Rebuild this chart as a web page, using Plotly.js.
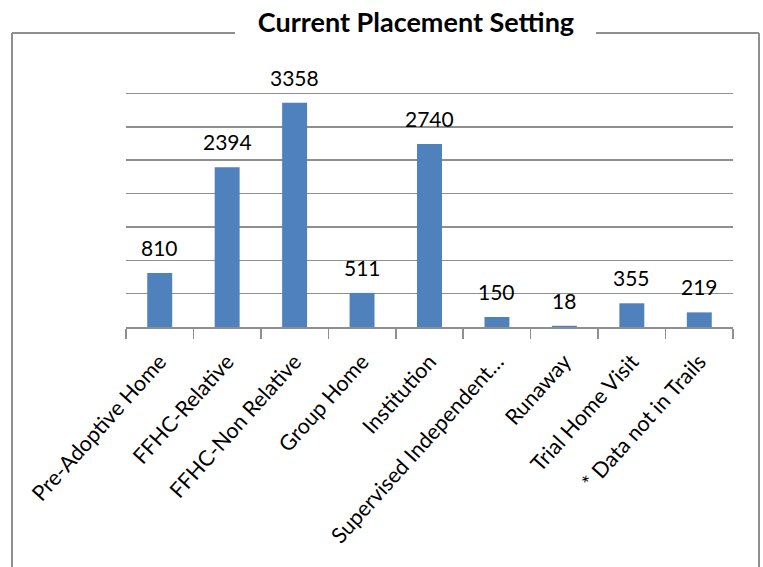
<!DOCTYPE html>
<html>
<head>
<meta charset="utf-8">
<script src="https://cdn.plot.ly/plotly-3.0.1.min.js"></script>
<style>html,body{margin:0;padding:0;background:#fff;}#chart{width:763px;height:567px;}</style>
</head>
<body>
<div id="chart"></div>
<script>
const categories = ["Pre-Adoptive Home", "FFHC-Relative", "FFHC-Non Relative", "Group Home", "Institution", "Supervised Independent…", "Runaway", "Trial Home Visit", "* Data not in Trails"];
const values = [810, 2394, 3358, 511, 2740, 150, 18, 355, 219];
const chartTitle = "Current Placement Setting";

const L = 126, R = 733, T = 60, B = 327;
const W = 763, H = 567;
const px = x => (x - L) / (R - L);
const py = y => (B - y) / (B - T);
const borderColor = "#8f8f8f";
const fontFam = "Lato, 'Open Sans', 'Noto Sans', sans-serif";

const trace = {
  type: "bar",
  x: categories,
  y: values,
  marker: {color: "#4f81bd"},
  hoverinfo: "x+y"
};

const valueLabels = categories.map((c, i) => ({
  x: c, y: values[i], xref: "x", yref: "y",
  text: String(values[i]),
  showarrow: false,
  yanchor: "bottom",
  yshift: 11,
  font: {family: fontFam, size: 21, color: "#000"}
}));

const layout = {
  width: W, height: H,
  margin: {l: L, r: W - R, t: T, b: H - B, pad: 0},
  paper_bgcolor: "#fff",
  plot_bgcolor: "#fff",
  showlegend: false,
  bargap: 0.63,
  title: {
    text: "<b>" + chartTitle + "</b>",
    font: {family: fontFam, size: 27, color: "#000"},
    xref: "paper", x: px(416), xanchor: "center",
    yref: "container", y: 1 - 23 / H, yanchor: "middle"
  },
  xaxis: {
    type: "category",
    tickson: "boundaries",
    ticks: "outside",
    ticklen: 10,
    tickwidth: 1.5,
    tickcolor: borderColor,
    showline: true,
    linecolor: borderColor,
    linewidth: 1.5,
    tickangle: -48,
    ticklabelstandoff: 12,
    tickfont: {family: fontFam, size: 21.5, color: "#000"},
    showgrid: false,
    fixedrange: true
  },
  yaxis: {
    range: [0, 4000],
    dtick: 500,
    showticklabels: false,
    showgrid: true,
    gridcolor: borderColor,
    gridwidth: 1.5,
    zeroline: false,
    showline: false,
    ticks: "",
    fixedrange: true
  },
  annotations: valueLabels,
  shapes: [
    {type: "line", xref: "paper", yref: "paper", x0: px(12), x1: px(12), y0: py(33), y1: py(620), line: {color: borderColor, width: 2}},
    {type: "line", xref: "paper", yref: "paper", x0: px(759), x1: px(759), y0: py(33), y1: py(620), line: {color: borderColor, width: 2}},
    {type: "line", xref: "paper", yref: "paper", x0: px(12), x1: px(235), y0: py(33), y1: py(33), line: {color: borderColor, width: 2}},
    {type: "line", xref: "paper", yref: "paper", x0: px(596), x1: px(759), y0: py(33), y1: py(33), line: {color: borderColor, width: 2}}
  ]
};

Plotly.newPlot("chart", [trace], layout, {displayModeBar: false, staticPlot: true});
</script>
</body>
</html>
